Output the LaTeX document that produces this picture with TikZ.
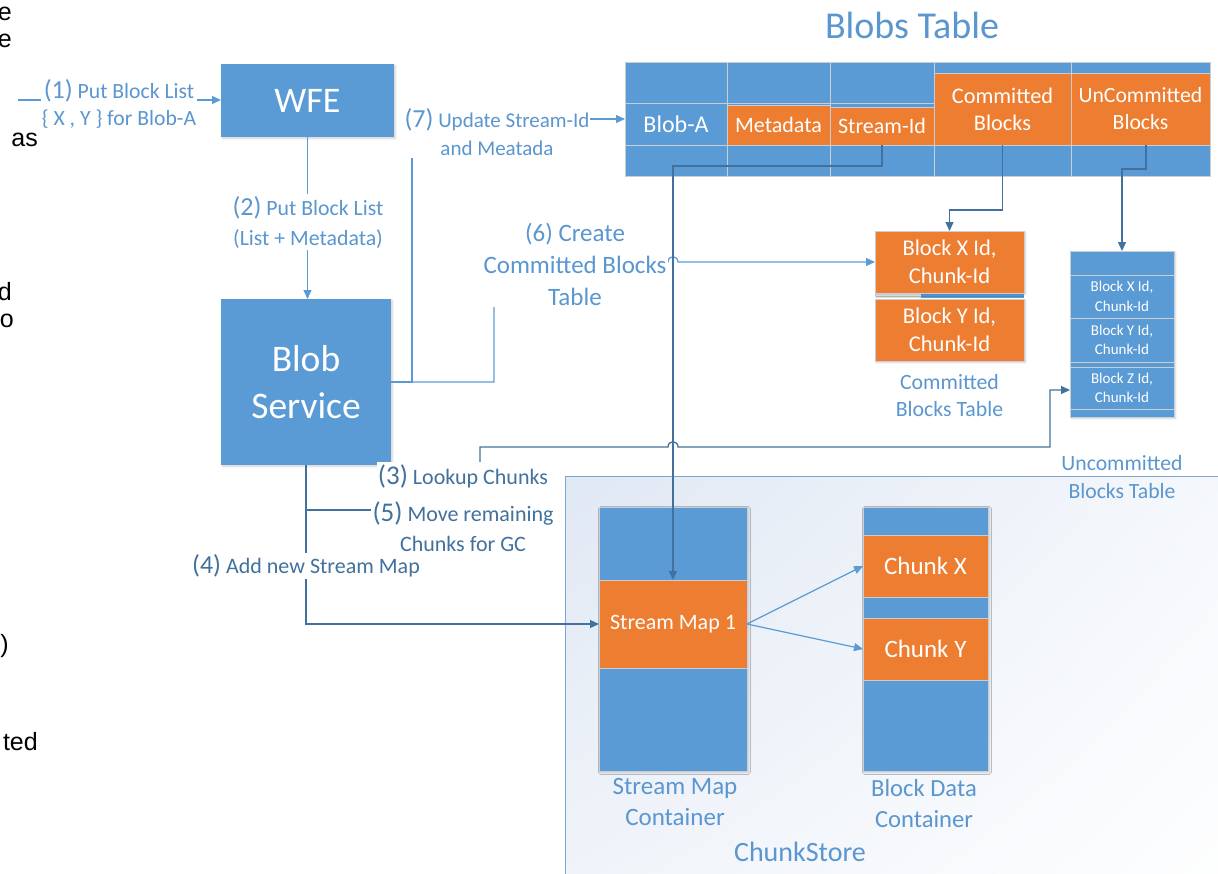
\documentclass[tikz,border=0pt]{standalone}
\usepackage{fontspec}
\setmainfont{Carlito}
\newfontfamily\bodyfont{Liberation Sans}
\usetikzlibrary{arrows.meta,shadows.blur,shadings,calc}
\definecolor{cblue}{HTML}{5B9BD5}
\definecolor{corange}{HTML}{ED7D31}
\definecolor{cdark}{HTML}{41719C}
\definecolor{cgrid}{HTML}{C9CED4}
\definecolor{cframe}{HTML}{7EA6CF}
\definecolor{cshade}{HTML}{E0E8F4}
\definecolor{ctext}{HTML}{5A96CF}
\pgfdeclarelayer{conn}
\pgfdeclarelayer{front}
\pgfsetlayers{main,conn,front}
\newcommand\fs[2]{\fontsize{#1}{#2}\selectfont}
\begin{document}
\begin{tikzpicture}[x=1pt,y=-1pt,
  boxshadow/.style={blur shadow={shadow blur steps=6, shadow xshift=1.5pt, shadow yshift=-1.5pt, shadow opacity=18}},
  bluebox/.style={fill=cblue, draw=none, text=white, inner sep=0pt, outer sep=0pt, align=center},
  bluecell/.style={fill=cblue, draw=cgrid, line width=0.8pt, text=white, inner sep=0pt, outer sep=0pt, align=center},
  orangecell/.style={fill=corange, draw=cgrid, line width=0.8pt, text=white, inner sep=0pt, outer sep=0pt, align=center},
  caption/.style={text=ctext, align=center, inner sep=0pt},
  steplabel/.style={text=ctext, align=center, fill=white, inner xsep=1pt, inner ysep=2pt},
  darklabel/.style={text=cdark, align=center, fill=white, inner xsep=1pt, inner ysep=2pt},
  tip/.style={-{Triangle[length=9pt,width=8pt]}},
  lconn/.style={draw=cblue, line width=1.2pt},
  dconn/.style={draw=cdark, line width=1.3pt},
  frag/.style={font=\bodyfont\fs{25}{28}, text=black, inner sep=0pt, anchor=base east},
  storebox/.style={draw=cframe, line width=0.9pt, inner sep=0pt, outer sep=0pt,
    upper left=cshade, upper right=white!70!cshade,
    lower left=white!55!cshade, lower right=white}
]
\useasboundingbox (0,0) rectangle (1218,873);

% ChunkStore container, running past the right and bottom edges
\node[storebox, minimum width=680pt, minimum height=430pt, anchor=north west] (store) at (565,476) {};
\node[caption, font=\fs{28}{30}] (cstore) at (800,852) {ChunkStore};

% cut-off body text at the left edge
\node[frag] (f1) at (12,20) {e};
\node[frag] (f2) at (12,47) {e};
\node[frag] (f3) at (38,146) {as};
\node[frag] (f4) at (12,300) {d};
\node[frag] (f5) at (14,327) {o};
\node[frag] (f6) at (9,652) {)};
\node[frag] (f7) at (38,750) {ted};

% front-end and service boxes
\node[bluebox, boxshadow, minimum width=173pt, minimum height=73pt, font=\fs{36}{40}] (wfe) at (307.5,100.5) {WFE};
\node[bluebox, boxshadow, minimum width=170pt, minimum height=166pt, font=\fs{37.5}{47}] (bs) at (306,382) {Blob\\Service};

% Blobs table
\node[caption, font=\fs{38}{40}] (btitle) at (912,25) {Blobs Table};
\fill[cblue] (625,62) rectangle (1210,176);
\foreach \xa/\xb in {625/727,727/830,830/934} {
  \draw[cgrid, line width=0.8pt] (\xa,62) rectangle (\xb,103);
  \draw[cgrid, line width=0.8pt] (\xa,145) rectangle (\xb,176);
  \draw[cgrid, line width=0.8pt] (\xa,103) rectangle (\xb,145);
}
\foreach \xa/\xb in {934/1071,1071/1210} {
  \draw[cgrid, line width=0.8pt] (\xa,62) rectangle (\xb,73);
  \draw[cgrid, line width=0.8pt] (\xa,145) rectangle (\xb,176);
}
\node[bluecell, minimum width=102pt, minimum height=42pt, font=\fs{24}{26}] (blobA) at (676,124) {Blob-A};
\node[orangecell, minimum width=103pt, minimum height=40pt, font=\fs{22}{24}] (meta) at (778.5,125) {Metadata};
\node[orangecell, minimum width=104pt, minimum height=38pt, font=\fs{22}{24}] (sid) at (882,126) {Stream-Id};
\node[orangecell, minimum width=137pt, minimum height=72pt, font=\fs{22.3}{27}] (cb) at (1002.5,109) {Committed\\Blocks};
\node[orangecell, minimum width=139pt, minimum height=72pt, font=\fs{21.7}{27}] (ucbc) at (1140.5,109) {UnCommitted\\Blocks};

% Committed blocks table
\fill[cgrid!60] (875,294) rectangle (921,298);
\fill[cblue] (921,294) rectangle (1024,298);
\node[orangecell, boxshadow, minimum width=149pt, minimum height=62pt, font=\fs{22.5}{28}] (cbx) at (949.5,262) {Block X Id,\\Chunk-Id};
\node[orangecell, boxshadow, minimum width=149pt, minimum height=62pt, font=\fs{22.5}{28}] (cby) at (949.5,330) {Block Y Id,\\Chunk-Id};
\node[caption, font=\fs{21.8}{27}] (cbcap) at (949.5,396) {Committed\\Blocks Table};

% Uncommitted blocks table
\node[bluecell, boxshadow, minimum width=104pt, minimum height=166pt] (ucb) at (1122,334) {};
\foreach \yy in {275,318,362,367,409}
  \draw[cgrid, line width=0.8pt] (1070,\yy) -- (1174,\yy);
\node[text=white, align=center, inner sep=0pt, font=\fs{15}{19.5}] (ux) at (1122,296.5) {Block X Id,\\Chunk-Id};
\node[text=white, align=center, inner sep=0pt, font=\fs{15}{19.5}] (uy) at (1122,340) {Block Y Id,\\Chunk-Id};
\node[text=white, align=center, inner sep=0pt, font=\fs{15}{19.5}] (uz) at (1122,388) {Block Z Id,\\Chunk-Id};
\node[caption, font=\fs{21.7}{28}] (ucbcap) at (1122,477) {Uncommitted\\Blocks Table};

% ChunkStore containers
\node[bluecell, boxshadow, minimum width=148pt, minimum height=264pt] (smc) at (673,639) {};
\node[orangecell, minimum width=148pt, minimum height=88pt, font=\fs{22}{24}] (sm1) at (673,624) {Stream Map 1};
\node[caption, font=\fs{25}{31}] (smcap) at (675,802) {Stream Map\\Container};
\node[bluecell, boxshadow, minimum width=125pt, minimum height=264pt] (bdc) at (925.5,639) {};
\node[orangecell, minimum width=125pt, minimum height=62pt, font=\fs{25}{26}] (chx) at (925.5,566) {Chunk X};
\node[orangecell, minimum width=125pt, minimum height=62pt, font=\fs{25}{26}] (chy) at (925.5,649) {Chunk Y};
\node[caption, font=\fs{24.6}{31}] (bdcap) at (924,804) {Block Data\\Container};

% step labels
\begin{pgfonlayer}{front}
\node[steplabel, font=\fs{21.7}{27}] (l1) at (119,104) {{\fs{26}{27}(1)} Put Block List\\\{ X , Y \} for Blob-A};
\node[steplabel, font=\fs{21.8}{30}] (l2) at (308,222) {{\fs{26}{30}(2)} Put Block List\\(List + Metadata)};
\node[steplabel, font=\fs{21}{28}] (l7) at (497,132) {{\fs{26}{28}(7)} Update Stream-Id\\and Meatada};
\node[steplabel, font=\fs{25}{32}] (l6) at (575,264) {(6) Create\\Committed Blocks\\Table};
\node[darklabel, font=\fs{22}{30}] (l3) at (463,476) {{\fs{27}{30}(3)} Lookup Chunks};
\node[darklabel, font=\fs{22}{30}] (l5) at (463,527) {{\fs{27}{30}(5)} Move remaining\\Chunks for GC};
\node[darklabel, font=\fs{22}{28}] (l4) at (306,566) {{\fs{26}{28}(4)} Add new Stream Map};
\end{pgfonlayer}

% connectors
\begin{pgfonlayer}{conn}
\coordinate (s1) at (18,100);
\draw[lconn, tip] (s1) -- (s1 -| wfe.west);
\draw[lconn, tip] (wfe.south) -- (wfe.south |- bs.north);
\draw[lconn, tip] (bs.east) -- (412,382) -- (412,119) -- ([yshift=5pt]blobA.west);
\draw[lconn, tip] (bs.east) -- (494,382) -- (494,262) -- (668,262)
  .. controls (668,255) and (678,255) .. (678,262) -- (cbx.west);
\draw[dconn, tip] (sid.south) -- ++(0,21) -| (sm1.north);
\draw[dconn, tip] (cb.south) -- ++(0,65) -| (cbx.north);
\draw[dconn, tip] ([xshift=5.5pt]ucbc.south) -- ++(0,24) -| (ucb.north);
\coordinate (h3) at (480,447);
\coordinate (k3) at (1050,390);
\draw[dconn, tip] (l3.north -| h3) -- (h3) -- (668,447)
  .. controls (668,440) and (678,440) .. (678,447) -| (k3) -- (k3 -| ucb.west);
\draw[dconn, tip] (bs.south) -- (bs.south |- sm1.west) -- (sm1.west);
\coordinate (j5) at (306,510);
\draw[dconn] (j5) -- (j5 -| l5.west);
\draw[lconn, tip] (sm1.east) -- (chx.west);
\draw[lconn, tip] (sm1.east) -- (chy.west);
\end{pgfonlayer}
\end{tikzpicture}
\end{document}
